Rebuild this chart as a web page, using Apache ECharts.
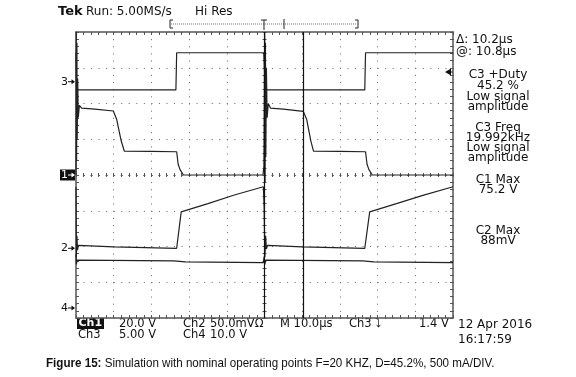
<!DOCTYPE html>
<html>
<head>
<meta charset="utf-8">
<script src="https://cdn.jsdelivr.net/npm/echarts@6/dist/echarts.min.js"></script>
<style>
  html, body { margin: 0; padding: 0; background: #fff; }
  #scope { width: 576px; height: 377px; }
</style>
</head>
<body>
<div id="scope"></div>
<script>
// time in µs (10 µs/div, 10 div), level in screen divisions (0 = bottom, 8 = top)
const ch1Trace = [
  [0, 4.0], [0.08, 8.0], [0.16, 4.4], [0.24, 7.7], [0.32, 5.0], [0.45, 6.7], [0.6, 5.6], [0.9, 5.95],
  [1.5, 5.87], [5, 5.84], [9.9, 5.79], [10.8, 5.55], [12.0, 4.95], [12.8, 4.67], [20, 4.66],
  [26.7, 4.65], [27.1, 4.3], [27.6, 4.15], [28.5, 4.0], [49.6, 4.0], [49.85, 4.25],
  [50.05, 8.0], [50.15, 3.8], [50.25, 7.7], [50.35, 4.5], [50.5, 7.0], [50.7, 5.6], [51.0, 6.0],
  [51.6, 5.87], [55, 5.84], [60.3, 5.78], [61.2, 5.55], [62.3, 4.95], [63.0, 4.67], [70, 4.66],
  [76.8, 4.65], [77.2, 4.3], [77.7, 4.15], [78.6, 4.0], [100, 4.0]
];
const ch2Trace = [
  [0, 3.67], [0.1, 1.7], [0.25, 2.3], [0.4, 1.9], [0.6, 2.03], [10, 1.99], [26.7, 1.95],
  [27.9, 2.97], [35, 3.2], [42, 3.44], [49.7, 3.67], [49.9, 3.1], [50.1, 1.7], [50.3, 2.3],
  [50.5, 1.93], [50.8, 2.03], [60, 1.99], [76.6, 1.95], [77.9, 2.97], [85, 3.2], [92, 3.43], [100, 3.67]
];
const ch3Trace = [
  [0, 7.42], [0.15, 6.38], [26.5, 6.38], [26.7, 7.42], [49.8, 7.42], [50.0, 6.9], [50.1, 7.35],
  [50.3, 6.38], [76.6, 6.38], [76.8, 7.42], [100, 7.42]
];
const ch4Trace = [
  [0, 1.78], [0.1, 1.5], [0.3, 1.62], [26, 1.6], [29, 1.57], [49.7, 1.55], [49.9, 1.72],
  [50.1, 1.5], [50.3, 1.62], [76, 1.6], [79, 1.57], [100, 1.55]
];
const cursorTimes = [50.0, 60.2];
const channelMarks = [['3', 6.61], ['1', 4.0], ['2', 1.95], ['4', 0.28]];
const readouts = [
  ['C3 +Duty', 75], ['45.2 %', 86], ['Low signal', 97], ['amplitude', 107],
  ['C3 Freq', 128], ['19.992kHz', 138], ['Low signal', 148], ['amplitude', 158],
  ['C1 Max', 180], ['75.2 V', 190], ['C2 Max', 231], ['88mV', 241]
];

const G = { left: 76, top: 32, width: 377, height: 286 };
const ink = '#222';
const frame = '#555';
const dotColor = '#666';
const font = '12px "DejaVu Sans"';
const smallFont = '11.5px "DejaVu Sans"';

function borderAxis(pos, extra) {
  return Object.assign({
    type: 'value', gridIndex: 0, position: pos,
    axisLine: { show: true, onZero: false, lineStyle: { color: frame, width: 1.5 } },
    axisTick: { show: true, inside: true, length: 3, lineStyle: { color: frame } },
    minorTick: { show: true, splitNumber: 5, length: 3, lineStyle: { color: frame } },
    axisLabel: { show: false },
    splitLine: { show: false }
  }, extra);
}
function centerAxis(grid, inside, dash, extra) {
  return Object.assign({
    type: 'value', gridIndex: grid,
    axisLine: { show: true, onZero: true, lineStyle: { color: dotColor, width: 1, type: dash } },
    axisTick: { show: true, inside: inside, length: 2, lineStyle: { color: '#555' } },
    minorTick: { show: true, splitNumber: 5, length: 2, lineStyle: { color: '#555' } },
    axisLabel: { show: false },
    splitLine: { show: false }
  }, extra);
}
function trace(data) {
  return {
    type: 'line', xAxisIndex: 0, yAxisIndex: 0, data: data,
    showSymbol: false, symbol: 'none', silent: true,
    lineStyle: { color: ink, width: 1.2 }
  };
}

const chart = echarts.init(document.getElementById('scope'));
const py = d => G.top + G.height - d / 8 * G.height;

const graphics = [];
// header
graphics.push({ type: 'text', style: { text: 'Tek', x: 58, y: 12, font: 'bold 13px "DejaVu Sans"', fill: '#111', textVerticalAlign: 'middle' } });
graphics.push({ type: 'text', style: { text: 'Run: 5.00MS/s', x: 86, y: 12, font: '12px "DejaVu Sans"', fill: '#111', textVerticalAlign: 'middle' } });
graphics.push({ type: 'text', style: { text: 'Hi Res', x: 195, y: 12, font: '12px "DejaVu Sans"', fill: '#111', textVerticalAlign: 'middle' } });
// record bar
graphics.push({ type: 'line', shape: { x1: 171, y1: 24, x2: 357, y2: 24 }, style: { stroke: '#777', lineDash: [1, 1] } });
graphics.push({ type: 'polyline', shape: { points: [[173, 20], [170, 20], [170, 28], [173, 28]] }, style: { stroke: '#222', fill: null } });
graphics.push({ type: 'polyline', shape: { points: [[355, 20], [358, 20], [358, 28], [355, 28]] }, style: { stroke: '#222', fill: null } });
graphics.push({ type: 'polyline', shape: { points: [[261, 20], [267, 20]] }, style: { stroke: '#222' } });
graphics.push({ type: 'polyline', shape: { points: [[264, 20], [264, 30]] }, style: { stroke: '#222' } });
graphics.push({ type: 'polyline', shape: { points: [[284, 19], [284, 29]] }, style: { stroke: '#222' } });
// cursor readout
graphics.push({ type: 'text', style: { text: '\u0394: 10.2\u00b5s', x: 456, y: 40, font: font, fill: '#111', textVerticalAlign: 'middle' } });
graphics.push({ type: 'text', style: { text: '@: 10.8\u00b5s', x: 456, y: 52, font: font, fill: '#111', textVerticalAlign: 'middle' } });
// trigger level marker
graphics.push({ type: 'polygon', shape: { points: [[445, 72], [451, 68.5], [451, 75.5]] }, style: { fill: '#111' } });
graphics.push({ type: 'line', shape: { x1: 451, y1: 72, x2: 453, y2: 72 }, style: { stroke: '#111' } });
// measurements
readouts.forEach(function (r) {
  graphics.push({ type: 'text', style: { text: r[0], x: 498, y: r[1], font: font, fill: '#111', textAlign: 'center', textVerticalAlign: 'middle' } });
});
// channel ground markers
channelMarks.forEach(function (m) {
  const y = py(m[1]);
  if (m[0] === '1') {
    graphics.push({ type: 'rect', shape: { x: 60, y: y - 5.5, width: 15, height: 11 }, style: { fill: '#111' } });
  }
  const c = m[0] === '1' ? '#fff' : '#111';
  graphics.push({ type: 'text', style: { text: m[0], x: 61, y: y, font: '11px "DejaVu Sans"', fill: c, textVerticalAlign: 'middle' } });
  graphics.push({ type: 'line', shape: { x1: 68, y1: y, x2: 74, y2: y }, style: { stroke: c } });
  graphics.push({ type: 'polygon', shape: { points: [[75, y], [71.5, y - 2.5], [71.5, y + 2.5]] }, style: { fill: c } });
});
// bottom status lines
graphics.push({ type: 'rect', shape: { x: 77, y: 318, width: 27, height: 11 }, style: { fill: '#111' } });
graphics.push({ type: 'text', style: { text: 'Ch1', x: 78.5, y: 323.5, font: 'bold 11px "DejaVu Sans"', fill: '#fff', textVerticalAlign: 'middle' } });
const row1 = [['20.0 V', 119], ['Ch2', 183], ['50.0mV\u03a9', 210], ['M 10.0\u00b5s', 280], ['Ch3 \u2935', 349], ['1.4 V', 419]];
row1.forEach(function (r) {
  graphics.push({ type: 'text', style: { text: r[0], x: r[1], y: 324, font: smallFont, fill: '#111', textVerticalAlign: 'middle' } });
});
const row2 = [['Ch3', 78], ['5.00 V', 119], ['Ch4', 183], ['10.0 V', 210]];
row2.forEach(function (r) {
  graphics.push({ type: 'text', style: { text: r[0], x: r[1], y: 335, font: smallFont, fill: '#111', textVerticalAlign: 'middle' } });
});
graphics.push({ type: 'text', style: { text: '12 Apr 2016', x: 458, y: 325, font: font, fill: '#111', textVerticalAlign: 'middle' } });
graphics.push({ type: 'text', style: { text: '16:17:59', x: 458, y: 340, font: font, fill: '#111', textVerticalAlign: 'middle' } });
// caption (slightly condensed like the source)
graphics.push({
  type: 'text',
  x: 46, y: 363, scaleX: 0.9,
  style: {
    text: '{b|Figure 15:} Simulation with nominal operating points F=20 KHZ, D=45.2%, 500 mA/DIV.',
    x: 0, y: 0, font: '12.9px "Liberation Sans"', fill: '#111', textVerticalAlign: 'middle',
    rich: { b: { font: 'bold 12.9px "Liberation Sans"', fill: '#111' } }
  }
});

chart.setOption({
  animation: false,
  grid: [
    Object.assign({}, G),
    Object.assign({}, G),
    Object.assign({}, G)
  ],
  xAxis: [
    borderAxis('bottom', { min: 0, max: 100, interval: 10,
      splitLine: { show: true, lineStyle: { color: dotColor, width: 1, type: [1, 6.15] } } }),
    borderAxis('top', { min: 0, max: 100, interval: 10 }),
    centerAxis(1, false, [1, 6.54], { min: -50, max: 50, interval: 10 }),
    centerAxis(2, true, [1, 6.54], { min: -50, max: 50, interval: 10 })
  ],
  yAxis: [
    borderAxis('left', { min: 0, max: 8, interval: 1,
      splitLine: { show: true, lineStyle: { color: dotColor, width: 1, type: [1, 6.54] } } }),
    borderAxis('right', { min: 0, max: 8, interval: 1 }),
    centerAxis(1, false, [1, 6.15], { min: -4, max: 4, interval: 1 }),
    centerAxis(2, true, [1, 6.15], { min: -4, max: 4, interval: 1 })
  ],
  series: [
    trace(ch4Trace),
    trace(ch2Trace),
    trace(ch3Trace),
    Object.assign(trace(ch1Trace), {
      markLine: {
        silent: true, symbol: 'none', label: { show: false },
        lineStyle: { color: '#111', type: 'solid', width: 1.2 },
        data: cursorTimes.map(t => ({ xAxis: t }))
      }
    })
  ],
  graphic: graphics
});
</script>
</body>
</html>
